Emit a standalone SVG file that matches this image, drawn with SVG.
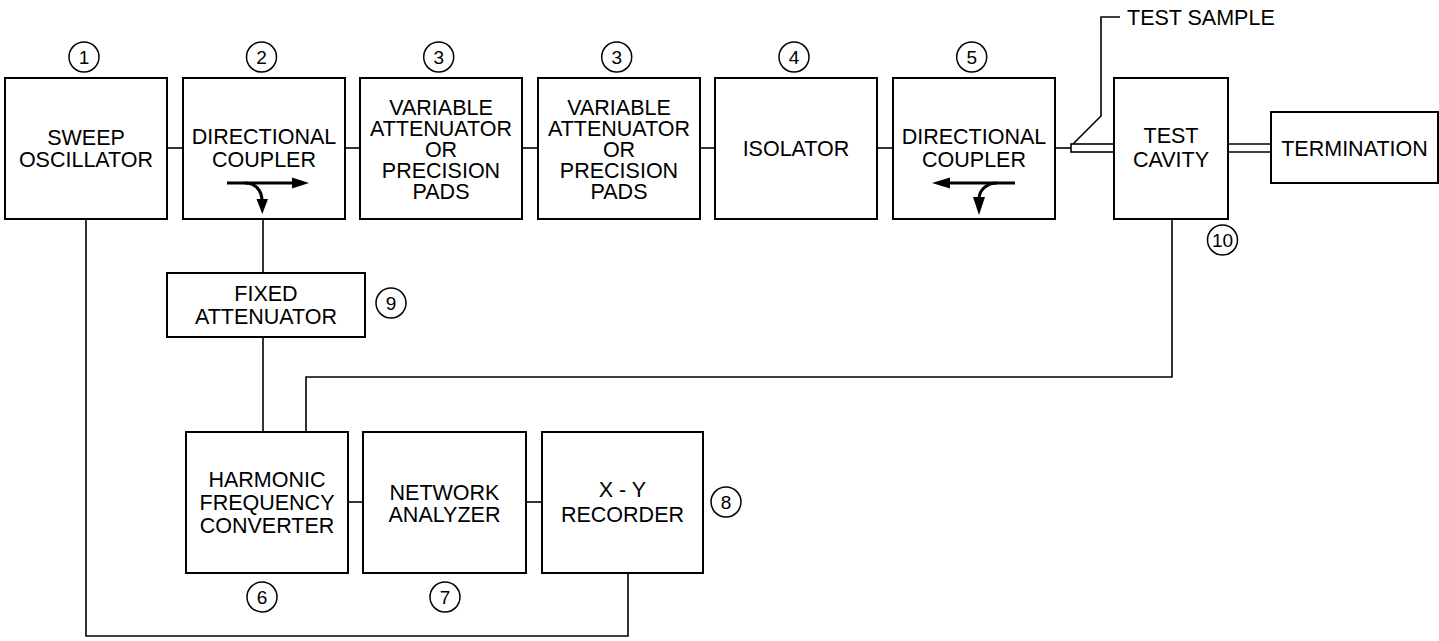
<svg xmlns="http://www.w3.org/2000/svg" width="1439" height="641" viewBox="0 0 1439 641">
<style>
.box{fill:#fff;stroke:#000;stroke-width:2}
.ln{fill:none;stroke:#000;stroke-width:1.6}
.t{font-family:"Liberation Sans",Arial,Helvetica,sans-serif;font-size:21.5px;text-anchor:middle;fill:#000}
.n{font-family:"Liberation Sans",Arial,Helvetica,sans-serif;font-size:19px;text-anchor:middle;fill:#000}
.c{fill:none;stroke:#000;stroke-width:1.5}
.ar{fill:none;stroke:#000;stroke-width:3}
</style>
<rect width="1439" height="641" fill="#fff"/>
<g id="connectors">
<line class="ln" x1="167" y1="148" x2="183" y2="148"/>
<line class="ln" x1="345" y1="148" x2="360" y2="148"/>
<line class="ln" x1="522" y1="148" x2="538" y2="148"/>
<line class="ln" x1="700" y1="148" x2="715" y2="148"/>
<line class="ln" x1="877" y1="148" x2="893" y2="148"/>
<line class="ln" x1="1055" y1="148" x2="1071" y2="148"/>
<rect class="ln" x="1071" y="144" width="43" height="8"/>
<line class="ln" x1="1228" y1="144" x2="1271" y2="144"/>
<line class="ln" x1="1228" y1="152" x2="1271" y2="152"/>
<polyline class="ln" points="1073,144 1101,116 1101,17 1120,17"/>
<polyline class="ln" points="86,219 86,636 628,636 628,573"/>
<line class="ln" x1="263" y1="219" x2="263" y2="273"/>
<line class="ln" x1="263" y1="337" x2="263" y2="432"/>
<polyline class="ln" points="1172,219 1172,377 306,377 306,432"/>
<line class="ln" x1="348" y1="502" x2="363" y2="502"/>
<line class="ln" x1="526" y1="502" x2="542" y2="502"/>
</g>
<g id="n1">
<rect class="box" x="5" y="78" width="162" height="141"/>
<text class="t" x="86" y="145">SWEEP</text>
<text class="t" x="86" y="167">OSCILLATOR</text>
<circle class="c" cx="84" cy="57" r="15"/>
<text class="n" x="84" y="64">1</text>
</g>
<g id="n2">
<rect class="box" x="183" y="78" width="162" height="141"/>
<text class="t" x="264" y="144">DIRECTIONAL</text>
<text class="t" x="264" y="167">COUPLER</text>
<line class="ar" x1="227" y1="183" x2="295" y2="183"/>
<polygon points="292,177.5 309,183 292,188.5"/>
<path class="ar" d="M245 183 C255 183 262 190 262 201"/>
<polygon points="256.5,199 268,199 262.3,214"/>
<circle class="c" cx="261.5" cy="57" r="15"/>
<text class="n" x="261.5" y="64">2</text>
</g>
<g id="n3a">
<rect class="box" x="360" y="78" width="162" height="141"/>
<text class="t" x="441" y="115">VARIABLE</text>
<text class="t" x="441" y="136">ATTENUATOR</text>
<text class="t" x="441" y="157">OR</text>
<text class="t" x="441" y="178">PRECISION</text>
<text class="t" x="441" y="199">PADS</text>
<circle class="c" cx="438.7" cy="57" r="15"/>
<text class="n" x="438.7" y="64">3</text>
</g>
<g id="n3b">
<rect class="box" x="538" y="78" width="162" height="141"/>
<text class="t" x="619" y="115">VARIABLE</text>
<text class="t" x="619" y="136">ATTENUATOR</text>
<text class="t" x="619" y="157">OR</text>
<text class="t" x="619" y="178">PRECISION</text>
<text class="t" x="619" y="199">PADS</text>
<circle class="c" cx="616.7" cy="57" r="15"/>
<text class="n" x="616.7" y="64">3</text>
</g>
<g id="n4">
<rect class="box" x="715" y="78" width="162" height="141"/>
<text class="t" x="796" y="156">ISOLATOR</text>
<circle class="c" cx="794" cy="57" r="15"/>
<text class="n" x="794" y="64">4</text>
</g>
<g id="n5">
<rect class="box" x="893" y="78" width="162" height="141"/>
<text class="t" x="974" y="144">DIRECTIONAL</text>
<text class="t" x="974" y="167">COUPLER</text>
<line class="ar" x1="1015" y1="183" x2="946" y2="183"/>
<polygon points="950,177.5 932,183 950,188.5"/>
<path class="ar" d="M997 183 C987 183 979 190 979 199"/>
<polygon points="973,197 985,197 979,215"/>
<circle class="c" cx="971.7" cy="57" r="15"/>
<text class="n" x="971.7" y="64">5</text>
</g>
<g id="n10">
<rect class="box" x="1114" y="78" width="114" height="141"/>
<text class="t" x="1171" y="143">TEST</text>
<text class="t" x="1171" y="167">CAVITY</text>
<circle class="c" cx="1222.5" cy="240" r="15"/>
<text class="n" x="1222.5" y="247">10</text>
</g>
<g id="sample">
<text class="t" x="1127" y="25" style="text-anchor:start">TEST SAMPLE</text>
</g>
<g id="term">
<rect class="box" x="1271" y="112" width="167" height="71"/>
<text class="t" x="1354.5" y="156">TERMINATION</text>
</g>
<g id="n9">
<rect class="box" x="167" y="273" width="198" height="64"/>
<text class="t" x="266" y="301">FIXED</text>
<text class="t" x="266" y="324">ATTENUATOR</text>
<circle class="c" cx="391" cy="303" r="15"/>
<text class="n" x="391" y="310">9</text>
</g>
<g id="n6">
<rect class="box" x="186" y="432" width="162" height="141"/>
<text class="t" x="267" y="487">HARMONIC</text>
<text class="t" x="267" y="510">FREQUENCY</text>
<text class="t" x="267" y="533">CONVERTER</text>
<circle class="c" cx="262" cy="597" r="15"/>
<text class="n" x="262" y="604">6</text>
</g>
<g id="n7">
<rect class="box" x="363" y="432" width="163" height="141"/>
<text class="t" x="444.5" y="500">NETWORK</text>
<text class="t" x="444.5" y="522">ANALYZER</text>
<circle class="c" cx="445" cy="597" r="15"/>
<text class="n" x="445" y="604">7</text>
</g>
<g id="n8">
<rect class="box" x="542" y="432" width="161" height="141"/>
<text class="t" x="622.5" y="497">X - Y</text>
<text class="t" x="622.5" y="522">RECORDER</text>
<circle class="c" cx="726" cy="502" r="15"/>
<text class="n" x="726" y="509">8</text>
</g>
</svg>
